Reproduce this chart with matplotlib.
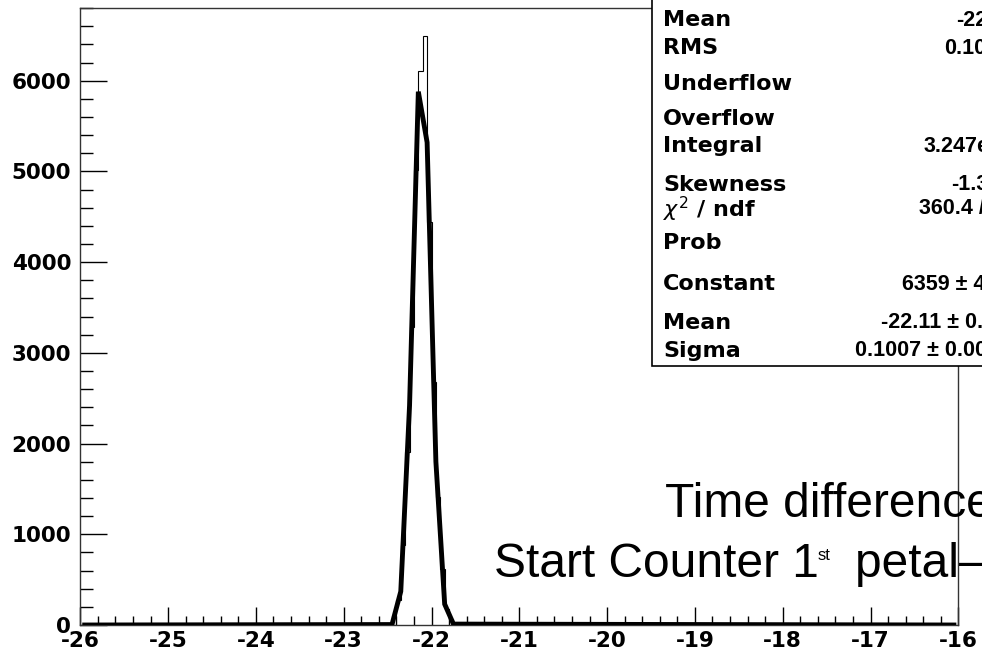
import numpy as np
import matplotlib
matplotlib.use("Agg")
import matplotlib.pyplot as plt
from matplotlib.patches import Rectangle
from matplotlib import font_manager

# histogram bins near the peak (bin width 0.05), everything else is empty
bin_edges = [-22.45, -22.40, -22.35, -22.30, -22.25, -22.20, -22.15, -22.10,
             -22.05, -22.00, -21.95, -21.90, -21.85, -21.80, -21.75]
bin_counts = [95, 280, 880, 1910, 3290, 5020, 6110, 6490,
              4440, 2680, 1410, 620, 175, 65]

# gaus fit curve as drawn (points every 0.1)
fit_x = [-25.95, -22.45, -22.35, -22.25, -22.15, -22.05, -21.95, -21.85, -21.75, -16.05]
fit_y = [0, 5, 370, 2420, 5880, 5320, 1800, 230, 10, 0]

stat_names = ["Mean", "RMS", "Underflow", "Overflow", "Integral", "Skewness",
              r"$\chi^{2}$ / ndf", "Prob", "Constant", "Mean", "Sigma"]
stat_values = ["-22.11", "0.1026", "0", "0", "3.247e+04", "-1.322",
               "360.4 / 7", "0", "6359 ± 45.6", "-22.11 ± 0.00", "0.1007 ± 0.0006"]
stat_rows_y = [20, 48, 84, 119, 146, 185, 209, 243, 284, 323, 351]
stat_values_x = [956, 944, 1000, 1000, 924, 951, 919, 1000, 902, 881, 855]

# make sure the normal-width Liberation Sans Bold is used (not the Narrow one)
bold_file = None
for f in font_manager.fontManager.ttflist:
    if f.fname.endswith("LiberationSans-Bold.ttf"):
        bold_file = f.fname
        break
if bold_file:
    value_prop = font_manager.FontProperties(fname=bold_file, size=15.5)
else:
    value_prop = font_manager.FontProperties(family="DejaVu Sans", weight="bold", size=13)

W, H = 982, 657
fig = plt.figure(figsize=(W / 100, H / 100), dpi=100)
ax = fig.add_axes([80.3 / W, 1 - 625 / H, (958.3 - 80.3) / W, (625 - 8.2) / H])

ax.stairs(bin_counts, bin_edges, color="black", lw=0.8, zorder=2)
ax.plot(fit_x, fit_y, color="black", lw=3.5, solid_joinstyle="miter", zorder=3)

ax.set_xlim(-26, -16)
ax.set_ylim(0, 6800)
ax.set_xticks(np.arange(-26, -15.5, 1))
ax.set_xticks(np.arange(-26, -15.9, 0.2), minor=True)
ax.set_yticks(np.arange(0, 6001, 1000))
ax.set_yticks(np.arange(0, 6801, 200), minor=True)
ax.set_xticklabels([str(v) for v in range(-26, -15)])
ax.set_yticklabels([str(v) for v in range(0, 6001, 1000)])

for s in ["top", "right", "left", "bottom"]:
    ax.spines[s].set_linewidth(1.0)
    ax.spines[s].set_color("#333333")

ax.tick_params(axis="x", which="major", direction="in", length=13, width=1,
               pad=4, top=False)
ax.tick_params(axis="x", which="minor", direction="in", length=6.5, width=1, top=False)
ax.tick_params(axis="y", which="major", direction="in", length=19.5, width=1,
               pad=6.5, right=False)
ax.tick_params(axis="y", which="minor", direction="in", length=9.5, width=1, right=False)
for lab in ax.get_xticklabels() + ax.get_yticklabels():
    lab.set_fontfamily("DejaVu Sans")
    lab.set_fontweight("bold")
    lab.set_fontsize(15.5)

# stats box
def px(x, y):
    return x / W, 1 - y / H

box = Rectangle(px(651.5, 366), (W + 50 - 651.5) / W, (366 + 20) / H,
                transform=fig.transFigure, facecolor="white", edgecolor="black",
                lw=1.2, zorder=5)
fig.add_artist(box)
name_font = dict(family="DejaVu Sans", weight="bold", size=16)
for name, val, y, vx in zip(stat_names, stat_values, stat_rows_y, stat_values_x):
    fig.text(*px(663, y), name, ha="left", va="center", zorder=6, **name_font)
    fig.text(*px(vx, y), val, ha="left", va="center", zorder=6, fontproperties=value_prop)

# title text
title_font = dict(family="Liberation Sans", size=34.5)
fig.text(*px(665, 517), "Time difference", ha="left", va="baseline", zorder=7, **title_font)
fig.text(*px(494, 577), "Start Counter 1", ha="left", va="baseline", zorder=7, **title_font)
fig.text(*px(818, 560), "st", ha="left", va="baseline", zorder=7,
         family="Liberation Sans", size=12)
fig.text(*px(855, 577), "petal—2nd petal", ha="left", va="baseline", zorder=7, **title_font)

fig.savefig("out.png", dpi=100)
